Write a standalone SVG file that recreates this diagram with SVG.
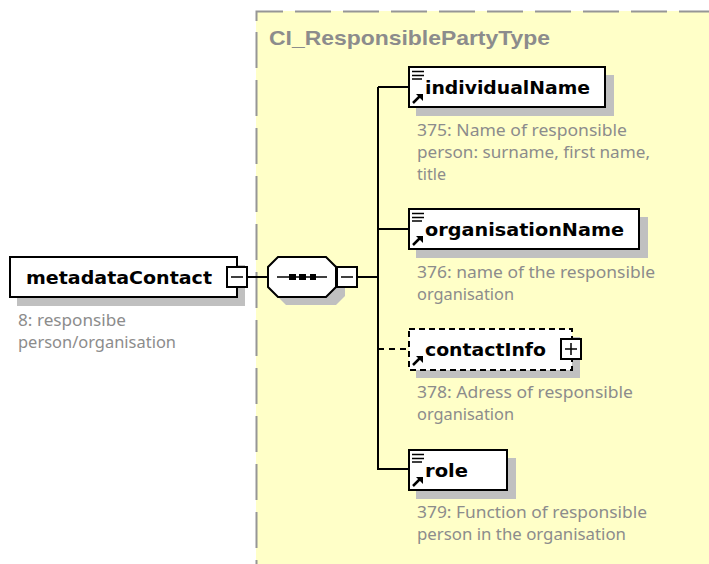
<svg xmlns="http://www.w3.org/2000/svg" width="709" height="564" viewBox="0 0 709 564">
<style>
.shadow{fill:#c0c0c0}
.box{fill:#fff;stroke:#000;stroke-width:2}
.dash{stroke-dasharray:6 4}
.line{fill:none;stroke:#000;stroke-width:2}
.name{font:bold 18.500px "DejaVu Sans",Verdana,sans-serif;fill:#000}
.note{font:16.500px "Noto Sans","DejaVu Sans",sans-serif;fill:#8c8c8c}
.title{font:bold 20.500px "Liberation Sans",Arial,sans-serif;fill:#8c8c8c}
.ico{stroke:#000;stroke-width:1.500;fill:none}
.arr{fill:#000}
.edge{fill:none;stroke:#969696;stroke-width:2}
</style>
<defs>
<g id="props"><path class="ico" d="M3 4.500H15M3 8.500H15M3 12H13"/></g>
<g id="ref"><path d="M4 36L11 29" stroke="#000" stroke-width="2.500" fill="none"/><path class="arr" d="M7 27H14V34Z"/></g>
</defs>
<g id="type-region">
<rect x="256" y="11" width="453" height="553" fill="#ffffc8"/>
<path class="edge" d="M256.500 21V11.500H283"/>
<path class="edge" stroke-dasharray="36 12" d="M295 11.500H709"/>
<path class="edge" stroke-dasharray="36 12" d="M256.500 32V564"/>
<text class="title" x="269" y="45" textLength="281" lengthAdjust="spacingAndGlyphs">CI_ResponsiblePartyType</text>
</g>
<g id="connectors">
<path class="line" d="M247 277H268M357 277H378M378 87V469H408M378 87H408M378 229H408"/>
<path class="line" stroke-dasharray="6 5" d="M378 349H408"/>
</g>
<g id="metadataContact">
<rect class="shadow" x="17" y="265" width="228" height="41"/>
<rect class="box" x="10" y="257" width="227" height="40"/>
<text class="name" x="26" y="284" textLength="186" lengthAdjust="spacingAndGlyphs">metadataContact</text>
<rect class="box" x="227" y="267" width="20" height="20"/>
<path class="ico" d="M231 277H243"/>
<text class="note" x="18" y="326" textLength="108" lengthAdjust="spacingAndGlyphs">8: responsibe</text>
<text class="note" x="18" y="348" textLength="158" lengthAdjust="spacingAndGlyphs">person/organisation</text>
</g>
<g id="sequence">
<path class="shadow" d="M286 265H336L345 274V296L336 305H286L277 296V274Z"/>
<path class="box" d="M278 257H326L336 267V287L326 297H278L268 287V267Z"/>
<path d="M277 277H327" stroke="#000" stroke-width="1.500"/>
<path d="M289 274h7v6h-7zM299 274h7v6h-7zM310 274h6v6h-6z" fill="#000"/>
<rect class="box" x="337" y="267" width="20" height="20"/>
<path class="ico" d="M341 277H353"/>
</g>
<g id="individualName">
<rect class="shadow" x="416" y="75" width="198" height="41"/>
<rect class="box" x="409" y="67" width="196" height="40"/>
<use href="#props" x="409" y="67"/><use href="#ref" x="409" y="67"/>
<text class="name" x="425" y="94" textLength="165" lengthAdjust="spacingAndGlyphs">individualName</text>
<text class="note" x="417" y="136" textLength="210" lengthAdjust="spacingAndGlyphs">375: Name of responsible</text>
<text class="note" x="417" y="158" textLength="233" lengthAdjust="spacingAndGlyphs">person: surname, first name,</text>
<text class="note" x="417" y="180" textLength="29" lengthAdjust="spacingAndGlyphs">title</text>
</g>
<g id="organisationName">
<rect class="shadow" x="416" y="217" width="232" height="41"/>
<rect class="box" x="409" y="209" width="230" height="40"/>
<use href="#props" x="409" y="209"/><use href="#ref" x="409" y="209"/>
<text class="name" x="425" y="236" textLength="199" lengthAdjust="spacingAndGlyphs">organisationName</text>
<text class="note" x="417" y="278" textLength="238" lengthAdjust="spacingAndGlyphs">376: name of the responsible</text>
<text class="note" x="417" y="300" textLength="97" lengthAdjust="spacingAndGlyphs">organisation</text>
</g>
<g id="contactInfo">
<rect class="shadow" x="416" y="337" width="164" height="41"/>
<rect class="box dash" x="409" y="329" width="163" height="41"/>
<use href="#ref" x="409" y="329"/>
<text class="name" x="425" y="356" textLength="121" lengthAdjust="spacingAndGlyphs">contactInfo</text>
<rect class="box" x="561" y="339" width="20" height="20"/>
<path class="ico" d="M565 349H577M571 343V355"/>
<text class="note" x="417" y="398" textLength="216" lengthAdjust="spacingAndGlyphs">378: Adress of responsible</text>
<text class="note" x="417" y="420" textLength="97" lengthAdjust="spacingAndGlyphs">organisation</text>
</g>
<g id="role">
<rect class="shadow" x="416" y="458" width="100" height="41"/>
<rect class="box" x="409" y="450" width="98" height="40"/>
<use href="#props" x="409" y="450"/><use href="#ref" x="409" y="450"/>
<text class="name" x="425" y="477" textLength="43" lengthAdjust="spacingAndGlyphs">role</text>
<text class="note" x="417" y="518" textLength="230" lengthAdjust="spacingAndGlyphs">379: Function of responsible</text>
<text class="note" x="417" y="540" textLength="209" lengthAdjust="spacingAndGlyphs">person in the organisation</text>
</g>
</svg>
